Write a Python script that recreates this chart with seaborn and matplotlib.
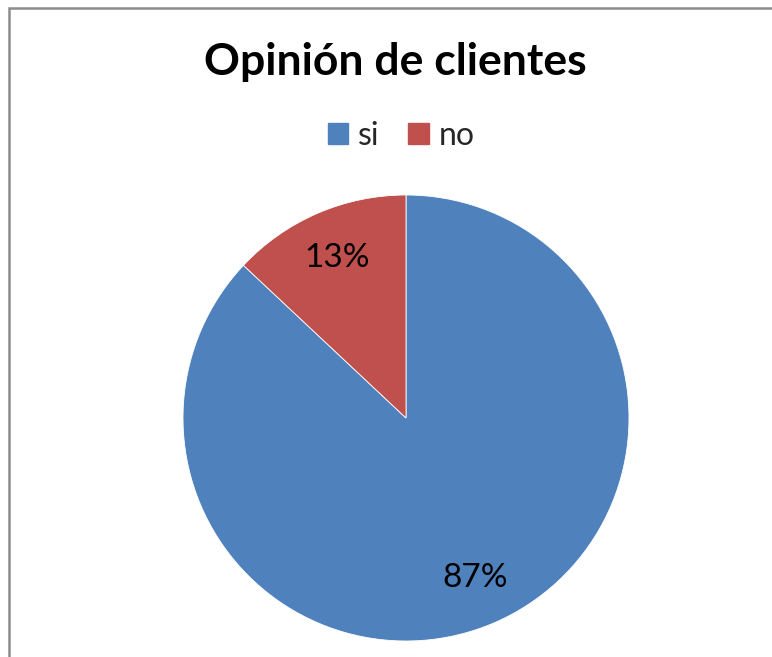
import matplotlib
matplotlib.use("Agg")
import matplotlib.pyplot as plt
import seaborn as sns
from matplotlib.patches import Rectangle, Patch

sns.set_theme(style="white")
plt.rcParams['font.family'] = ['Lato', 'DejaVu Sans']

categories = ["si", "no"]
values = [87, 13]
colors = ["#4F81BD", "#C0504D"]
title = "Opinión de clientes"

fig = plt.figure(figsize=(7.72, 6.57), dpi=100)
fig.patch.set_facecolor("white")

# chart border (top and left visible; frame extends beyond the image)
fig.add_artist(Rectangle((8.5 / 772, -0.1), 1.1, 1.1 - 7.5 / 657,
                         transform=fig.transFigure, fill=False,
                         edgecolor="#8c8c8c", linewidth=1.8))

ax = fig.add_axes([183 / 772, 16 / 657, 446 / 772, 446 / 657])
wedges, texts, autotexts = ax.pie(
    values, colors=colors, startangle=90, counterclock=False,
    autopct=lambda p: f"{p:.0f}%", pctdistance=0.78,
    wedgeprops=dict(edgecolor="white", linewidth=0.6),
    textprops=dict(fontsize=24, color="black"))
ax.set_aspect("equal")
ax.set_xlim(-1, 1)
ax.set_ylim(-1, 1)

fig.text(395 / 772, 1 - 62 / 657, title, ha="center", va="center",
         fontsize=32, fontweight="bold", color="black")

handles = [Patch(facecolor=c, edgecolor=c, label=l) for c, l in zip(colors, categories)]
fig.legend(handles=handles, loc="center", bbox_to_anchor=(401 / 772, 1 - 136 / 657),
           ncol=2, frameon=False, fontsize=23, handlelength=0.65, handleheight=0.65,
           handletextpad=0.3, columnspacing=0.9)

fig.savefig("out.png", dpi=100, facecolor="white")
